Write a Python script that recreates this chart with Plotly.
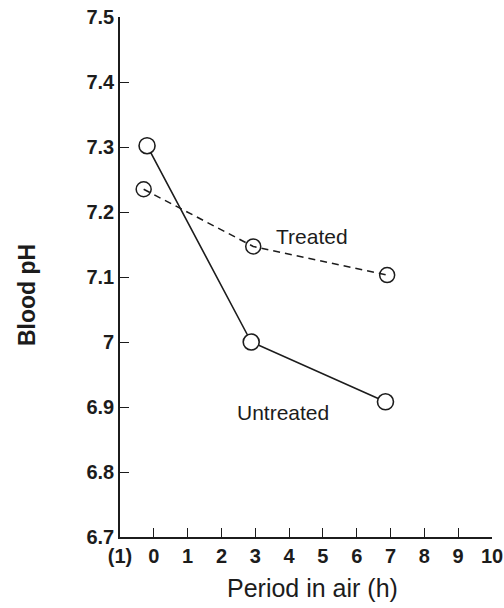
import plotly.graph_objects as go

# Blood pH after exposure to air
untreated_hours = [-0.2, 2.88, 6.85]
untreated_ph = [7.302, 7.0, 6.908]

treated_hours = [-0.3, 2.94, 6.9]
treated_ph = [7.235, 7.147, 7.103]

x_tick_vals = [-1, 0, 1, 2, 3, 4, 5, 6, 7, 8, 9, 10]
x_tick_text = ["(1)", "0", "1", "2", "3", "4", "5", "6", "7", "8", "9", "10"]
x_tick_marks = [0, 1, 2, 3, 4, 5, 6, 7, 8, 9]

y_tick_vals = [6.7, 6.8, 6.9, 7.0, 7.1, 7.2, 7.3, 7.4, 7.5]
y_tick_text = ["6.7", "6.8", "6.9", "7", "7.1", "7.2", "7.3", "7.4", "7.5"]
y_tick_marks = [6.8, 6.9, 7.0, 7.1, 7.2, 7.3, 7.4]

series_labels = [
    ("Treated", 4.69, 7.163),
    ("Untreated", 3.83, 6.891),
]

INK = "#1c1c1c"
FONT = "Liberation Sans, Arial, Helvetica, sans-serif"

fig = go.Figure()

fig.add_trace(go.Scatter(
    x=treated_hours, y=treated_ph, mode="lines+markers",
    line=dict(color=INK, width=1.5, dash="7px,5px"),
    marker=dict(symbol="circle-open", size=15, color=INK, line=dict(width=1.5)),
    showlegend=False, hoverinfo="skip",
))

fig.add_trace(go.Scatter(
    x=untreated_hours, y=untreated_ph, mode="lines+markers",
    line=dict(color=INK, width=1.6),
    marker=dict(symbol="circle", size=16, color="white", line=dict(color=INK, width=1.6)),
    showlegend=False, hoverinfo="skip",
))

for text, lx, ly in series_labels:
    fig.add_annotation(
        x=lx, y=ly, xref="x", yref="y", text=text, showarrow=False,
        font=dict(family=FONT, size=21, color=INK),
    )

fig.add_annotation(
    text="<b>Blood pH</b>", xref="paper", yref="paper",
    x=(27 - 120) / 372, y=1 - (295 - 17) / 520, textangle=-90,
    showarrow=False, xanchor="center", yanchor="middle",
    font=dict(family=FONT, size=23, color=INK),
)
fig.add_annotation(
    text="Period in air (h)", xref="paper", yref="paper",
    x=(312 - 120) / 372, y=(537 - 588) / 520,
    showarrow=False, xanchor="center", yanchor="middle",
    font=dict(family=FONT, size=25, color=INK),
)

tick_font = dict(family=FONT, size=20, color=INK, weight="bold")

fig.update_xaxes(
    range=[-1, 10], showgrid=False, zeroline=False, automargin=False,
    showline=True, linecolor=INK, linewidth=1.6,
    tickmode="array", tickvals=x_tick_vals, ticktext=x_tick_text, ticks="",
    tickfont=tick_font,
    minor=dict(tickmode="array", tickvals=x_tick_marks, ticks="inside",
               ticklen=9, tickwidth=1.3, tickcolor=INK, showgrid=False),
)
fig.update_yaxes(
    range=[6.7, 7.5], showgrid=False, zeroline=False, automargin=False,
    showline=True, linecolor=INK, linewidth=1.6,
    tickmode="array", tickvals=y_tick_vals, ticktext=y_tick_text, ticks="",
    tickfont=tick_font,
    minor=dict(tickmode="array", tickvals=y_tick_marks, ticks="inside",
               ticklen=9, tickwidth=1.3, tickcolor=INK, showgrid=False),
)

fig.update_layout(
    width=504, height=608,
    margin=dict(l=120, r=12, t=17, b=71),
    paper_bgcolor="white", plot_bgcolor="white",
    font=dict(family=FONT, color=INK),
)

fig.write_html("out.html")
